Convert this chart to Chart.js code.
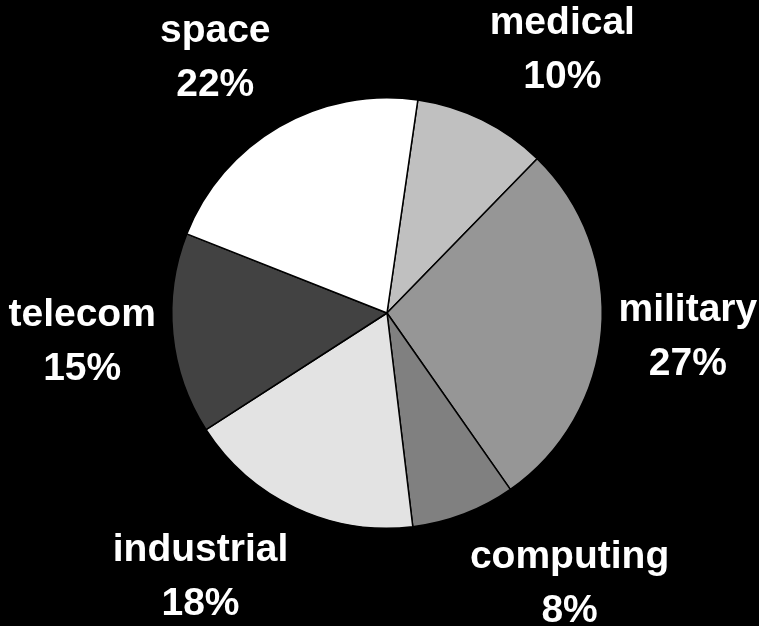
<!DOCTYPE html>
<html>
<head>
<meta charset="utf-8">
<script src="https://cdn.jsdelivr.net/npm/chart.js@4/dist/chart.umd.min.js"></script>
<style>
  html, body { margin: 0; padding: 0; background: #000; }
  #wrap { width: 759px; height: 626px; }
</style>
</head>
<body>
<div id="wrap"><canvas id="c" width="759" height="626"></canvas></div>
<script>
// Data (clockwise from the top)
const categories = ['medical', 'military', 'computing', 'industrial', 'telecom', 'space'];
const shares = [10, 28, 7.8, 17.8, 15.1, 21.3];
const percentLabels = ['10%', '27%', '8%', '18%', '15%', '22%'];
const sliceColors = ['#C0C0C0', '#969696', '#808080', '#E3E3E3', '#424242', '#FFFFFF'];

const labelFont = 'bold 39px "Liberation Sans", Arial, sans-serif';
const lineH = 54;

const clamp = (v) => Math.max(-1, Math.min(1, v));

const outsideLabels = {
  id: 'outsideLabels',
  afterDatasetsDraw(chart) {
    const ctx = chart.ctx;
    const meta = chart.getDatasetMeta(0);
    ctx.save();
    ctx.font = labelFont;
    ctx.fillStyle = '#FFFFFF';
    ctx.textAlign = 'center';
    ctx.textBaseline = 'middle';
    meta.data.forEach((arc, i) => {
      const p = arc.getProps(['x', 'y', 'startAngle', 'endAngle', 'outerRadius'], true);
      const mid = (p.startAngle + p.endAngle) / 2;
      const dx = Math.cos(mid), dy = Math.sin(mid);
      const R = p.outerRadius + 17;
      const px = p.x + R * dx, py = p.y + R * dy;
      const l1 = chart.data.labels[i], l2 = percentLabels[i];
      const w = Math.max(ctx.measureText(l1).width, ctx.measureText(l2).width);
      const h = 2 * lineH;
      const cx = px + (w / 2) * clamp(3 * dx);
      const cy = py + (h / 2) * clamp(1.15 * dy);
      ctx.fillText(l1, cx, cy - lineH / 2);
      ctx.fillText(l2, cx, cy + lineH / 2);
    });
    ctx.restore();
  }
};

const bgPlugin = {
  id: 'bg',
  beforeDraw(chart) {
    const ctx = chart.ctx;
    ctx.save();
    ctx.fillStyle = '#000';
    ctx.fillRect(0, 0, chart.width, chart.height);
    ctx.restore();
  }
};

new Chart(document.getElementById('c'), {
  type: 'pie',
  data: {
    labels: categories,
    datasets: [{
      data: shares,
      backgroundColor: sliceColors,
      borderColor: '#000000',
      borderWidth: 1.5
    }]
  },
  options: {
    responsive: false,
    animation: false,
    rotation: 8.24,
    layout: { padding: { left: 171, right: 156, top: 97, bottom: 97 } },
    plugins: {
      legend: { display: false },
      tooltip: { enabled: false }
    }
  },
  plugins: [bgPlugin, outsideLabels]
});
</script>
</body>
</html>
